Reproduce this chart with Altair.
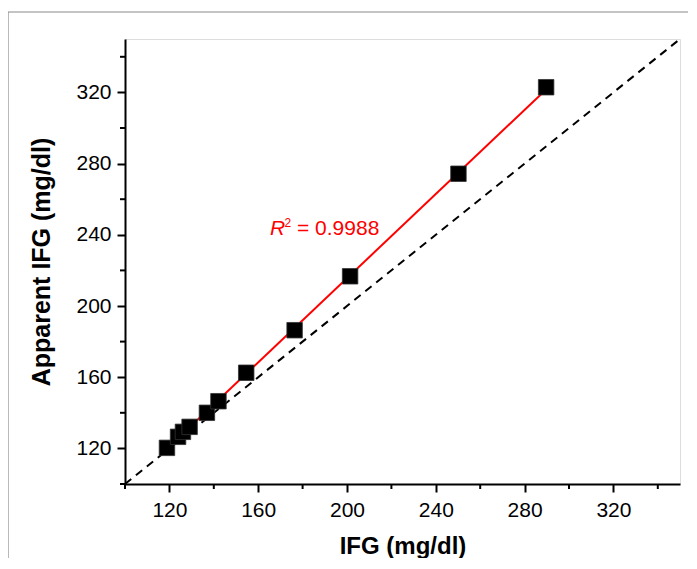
import altair as alt
import pandas as pd

# ---- data ----
ifg = [118.9, 123.9, 126.1, 129.1, 136.9, 142.1, 154.6, 176.4, 201.4, 250.2, 289.7]
apparent = [120.3, 126.5, 129.3, 132.1, 140.0, 146.5, 162.5, 186.4, 216.7, 274.3, 322.9]
diag = [100, 350]
major_ticks = [120, 160, 200, 240, 280, 320]
minor_ticks = [100, 140, 180, 220, 260, 300, 340]
r2_text = "= 0.9988"

W, H = 555, 445
FONT = "Liberation Sans"

pts = pd.DataFrame({"x": ifg, "y": apparent})
diag_df = pd.DataFrame({"x": diag, "y": diag})
minor_df = pd.DataFrame({"v": minor_ticks})

xs = alt.Scale(domain=[100, 350], nice=False, zero=False)
ys = alt.Scale(domain=[100, 350], nice=False, zero=False)

x_axis = alt.Axis(values=major_ticks, title="IFG (mg/dl)", tickSize=8, tickWidth=2,
                  domainWidth=2, domainColor="black", tickColor="black",
                  labelFontSize=21, labelFont=FONT, labelColor="black", labelPadding=7,
                  titleFontSize=24, titleFont=FONT, titleFontWeight="bold",
                  titleColor="black", titlePadding=14, grid=False)
y_axis = alt.Axis(values=major_ticks, title="Apparent IFG (mg/dl)", tickSize=8, tickWidth=2,
                  domainWidth=2, domainColor="black", tickColor="black",
                  labelFontSize=21, labelFont=FONT, labelColor="black", labelPadding=6,
                  titleFontSize=25, titleFont=FONT, titleFontWeight="bold",
                  titleColor="black", titlePadding=21, grid=False)

dashed = alt.Chart(diag_df).mark_line(color="black", strokeWidth=2, strokeDash=[8, 6]).encode(
    x=alt.X("x:Q", scale=xs, axis=x_axis),
    y=alt.Y("y:Q", scale=ys, axis=y_axis),
)

fit = alt.Chart(pts).transform_regression("x", "y").mark_line(color="#ff0000", strokeWidth=2).encode(
    x=alt.X("x:Q", scale=xs), y=alt.Y("y:Q", scale=ys)
)

squares = alt.Chart(pts).mark_square(size=240, color="black", opacity=1, stroke="#333333", strokeWidth=0.8).encode(
    x=alt.X("x:Q", scale=xs), y=alt.Y("y:Q", scale=ys)
)

minor_x = alt.Chart(minor_df).mark_rule(color="black", strokeWidth=2).encode(
    x=alt.X("v:Q", scale=xs), y=alt.value(H), y2=alt.value(H + 5)
)
minor_y = alt.Chart(minor_df).mark_rule(color="black", strokeWidth=2).encode(
    y=alt.Y("v:Q", scale=ys), x=alt.value(0), x2=alt.value(-5)
)

txt_df = pd.DataFrame({"a": ["R"], "b": ["2"], "c": [r2_text]})
t_r = alt.Chart(txt_df).mark_text(font=FONT, fontSize=21, fontStyle="italic", color="#ff0000",
                                  align="left", baseline="alphabetic").encode(
    text="a:N", x=alt.value(145), y=alt.value(196))
t_2 = alt.Chart(txt_df).mark_text(font=FONT, fontSize=12, color="#ff0000",
                                  align="left", baseline="alphabetic").encode(
    text="b:N", x=alt.value(159.5), y=alt.value(188))
t_c = alt.Chart(txt_df).mark_text(font=FONT, fontSize=21, color="#ff0000",
                                  align="left", baseline="alphabetic").encode(
    text="c:N", x=alt.value(172), y=alt.value(196))

# outer thin frame (left and top edges of the figure panel)
frame_left = alt.Chart(txt_df).mark_rule(color="#8a8a8a", strokeWidth=1.2).encode(
    x=alt.value(-117), y=alt.value(-27), y2=alt.value(H + 80))
frame_top = alt.Chart(txt_df).mark_rule(color="#8a8a8a", strokeWidth=1.2).encode(
    x=alt.value(-117), x2=alt.value(W + 20), y=alt.value(-27))

chart = alt.layer(frame_left, frame_top, dashed, fit, squares, minor_x, minor_y, t_r, t_2, t_c).properties(
    width=W, height=H,
    autosize=alt.AutoSizeParams(type="none"),
    padding={"left": 117, "top": 31, "right": 8, "bottom": 74},
).configure_view(stroke="black", strokeWidth=2).configure(background="white")

chart.save("out.html", embed_options={"renderer": "svg", "actions": False})
